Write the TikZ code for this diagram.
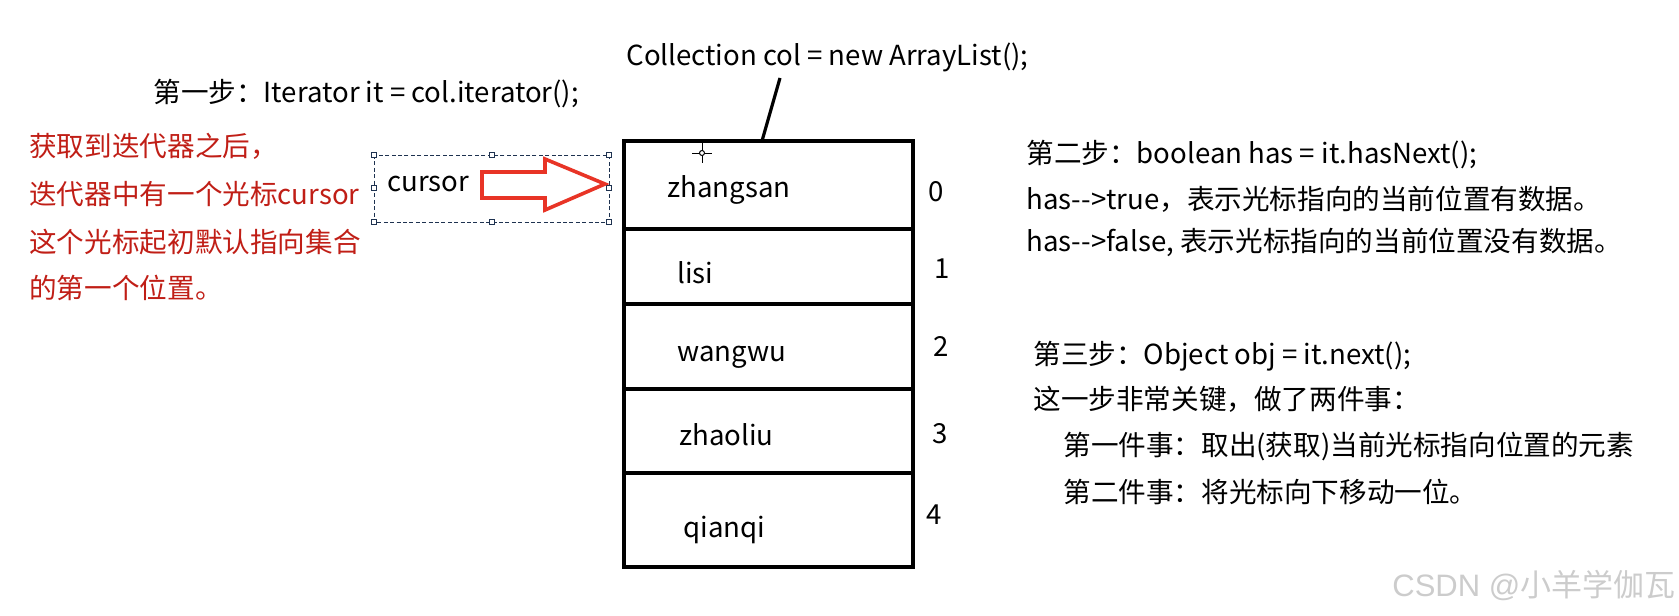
\documentclass[tikz,border=0pt]{standalone}
\usepackage{fontspec}
\setmainfont{Noto Sans CJK SC}
\newfontfamily\markfont{Liberation Sans}
\usetikzlibrary{positioning}
\definecolor{notered}{RGB}{192,30,22}
\definecolor{arrowred}{RGB}{232,52,38}
\definecolor{selblue}{RGB}{30,50,80}

\begin{document}
\begin{tikzpicture}[x=0.5pt, y=-0.5pt,
  txt/.style={anchor=base west, inner sep=0pt, font=\fontsize{13.8}{16}\selectfont},
  note/.style={txt, text=notered},
  cellbox/.style={draw, line width=2pt, minimum width=144.5pt, inner sep=0pt},
  handle/.style={draw=selblue, fill=white, line width=0.4pt, minimum size=2.6pt, inner sep=0pt},
  selbox/.style={draw=selblue, line width=0.5pt, dash pattern=on 2pt off 1.2pt},
  link/.style={line width=1.6pt}]
  \useasboundingbox (0,0) rectangle (1679,615);

  % 集合的格子
  \foreach \i/\ya/\yb in {0/141/229, 1/229/304, 2/304/389, 3/389/473, 4/473/567} {
    \node[cellbox, minimum height={(\yb-\ya)*0.5pt}] (c\i) at (768,{(\ya+\yb)/2}) {};
  }
  \foreach \i/\name/\x/\y in {0/zhangsan/667/197, 1/lisi/677/283, 2/wangwu/677/361,
      3/zhaoliu/679/445, 4/qianqi/683/537} {
    \node[txt] (e\i) at (\x,\y) {\name};
  }
  % 下标
  \foreach \i/\x/\y in {0/936/201, 1/942/278, 2/941/356, 3/940/443, 4/934/524} {
    \node[txt, anchor=base] (idx\i) at (\x,\y) {\i};
  }

  % 集合引用
  \node[txt] (colText) at (626,66) {Collection col = new ArrayList();};
  \coordinate (colTail) at (780,78);
  \coordinate (listTop) at (762,141);
  \draw[link] (colTail) -- (listTop);

  % 第一步
  \node[txt] (step1) at (153,103) {第一步：Iterator it = col.iterator();};
  \node[note] (note1) at (29,156) {获取到迭代器之后，};
  \node[note] (note2) at (29,204) {迭代器中有一个光标cursor};
  \node[note] (note3) at (29,252) {这个光标起初默认指向集合};
  \node[note] (note4) at (29,298) {的第一个位置。};

  % 光标
  \draw[selbox] (374,155) rectangle (609,222);
  \foreach \j/\x/\y in {1/374/155, 2/492/155, 3/609/155, 4/609/188,
      5/609/222, 6/492/222, 7/374/222, 8/374/188} {
    \node[handle] (h\j) at (\x,\y) {};
  }
  \node[txt] (cursor) at (387,191) {cursor};
  \draw[arrowred, line width=1.8pt, fill=white, line join=miter]
    (482,172) -- (545,172) -- (545,159) -- (605,184) -- (545,210) -- (545,198) -- (482,198) -- cycle;
  \draw[line width=0.5pt] (692,153) -- (712,153) (702,143) -- (702,163);
  \draw[line width=0.5pt, fill=white] (702,153) circle (2.5);

  % 第二步
  \node[txt] (step2) at (1026,163) {第二步：boolean has = it.hasNext();};
  \node[txt] (step2a) at (1026,209) {has-{}->true，表示光标指向的当前位置有数据。};
  \node[txt] (step2b) at (1026,251) {has-{}->false, 表示光标指向的当前位置没有数据。};

  % 第三步
  \node[txt] (step3) at (1033,364) {第三步：Object obj = it.next();};
  \node[txt] (step3a) at (1033,409) {这一步非常关键，做了两件事：};
  \node[txt] (step3b) at (1063,455) {第一件事：取出(获取)当前光标指向位置的元素};
  \node[txt] (step3c) at (1063,502) {第二件事：将光标向下移动一位。};

  \node[txt, text=black!20, font=\fontsize{15.5}{18}\selectfont] (mark) at (1392,596) {{\markfont CSDN @}小羊学伽瓦};
\end{tikzpicture}
\end{document}
